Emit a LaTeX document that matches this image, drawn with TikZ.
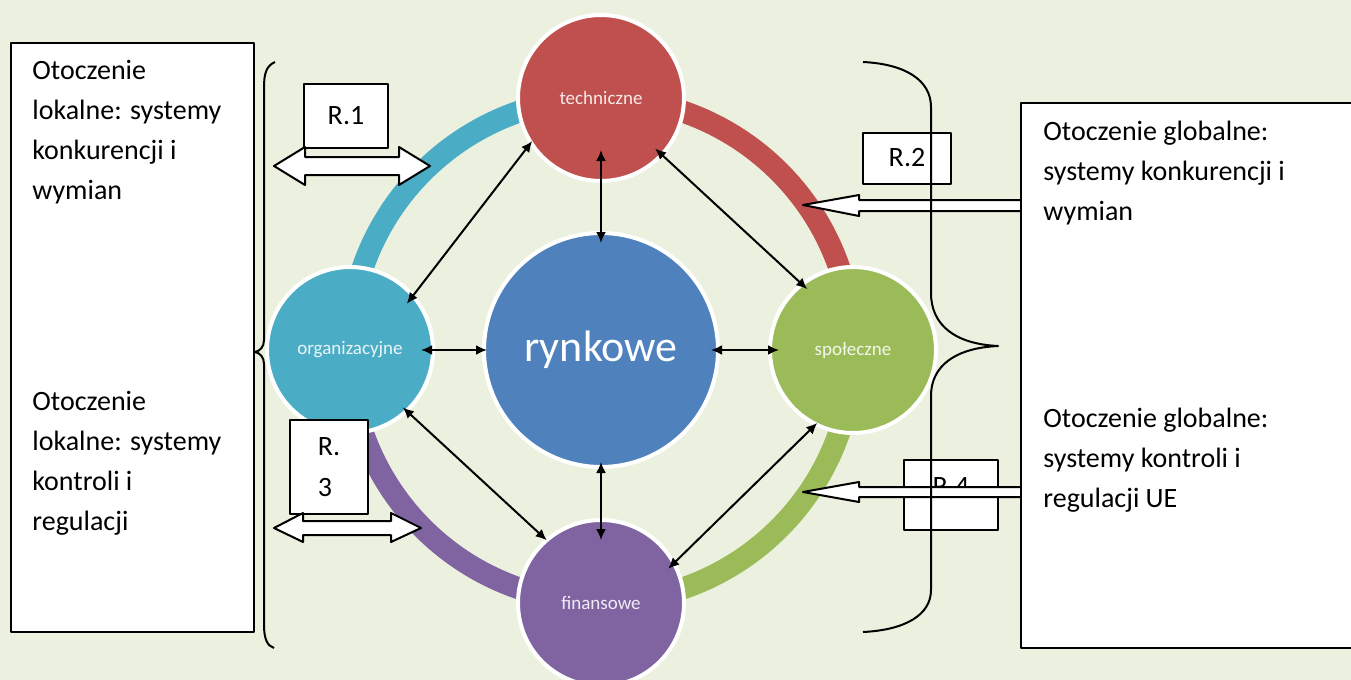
\documentclass[tikz,border=0pt]{standalone}
\usepackage{fontspec}
\setmainfont{Carlito}
\usetikzlibrary{arrows.meta}
\definecolor{tlo}{RGB}{235,241,222}
\definecolor{kolTech}{RGB}{192,80,77}
\definecolor{kolOrg}{RGB}{75,172,198}
\definecolor{kolRyn}{RGB}{79,129,189}
\definecolor{kolSpo}{RGB}{155,187,89}
\definecolor{kolFin}{RGB}{128,100,162}
\begin{document}
\begin{tikzpicture}[x=0.5pt,y=-0.5pt,>={Latex[length=5.5pt,width=5pt]},line join=round,
    kolo/.style={circle,draw=white,line width=2pt,minimum size=83pt,inner sep=0pt,font=\fontsize{9.5}{10}\selectfont},
    pierscien/.style={line width=11pt},
    link/.style={<->,line width=1pt},
    ramka/.style={draw,line width=1.2pt,fill=white},
    rbox/.style={draw,line width=1pt,fill=white,inner sep=0pt,font=\fontsize{14}{20.5}\selectfont},
    opis/.style={anchor=north west,align=left,inner sep=0pt,font=\fontsize{14}{20}\selectfont},
    blok/.style={draw,line width=1pt,fill=white}]
    \useasboundingbox (0,0) rectangle (1351,680);
    \fill[tlo] (0,0) rectangle (1351,680);
    % pierscien
    \coordinate (ctr) at (601,350);
    \draw[pierscien,kolOrg] (ctr) ++(180:126pt) arc[start angle=180,end angle=90,radius=126pt];
    \draw[pierscien,kolTech] (ctr) ++(90:126pt) arc[start angle=90,end angle=0,radius=126pt];
    \draw[pierscien,kolSpo] (ctr) ++(0:126pt) arc[start angle=0,end angle=-90,radius=126pt];
    \draw[pierscien,kolFin] (ctr) ++(-90:126pt) arc[start angle=-90,end angle=-180,radius=126pt];
    % kola
    \node[kolo,fill=kolTech,text=kolTech!12!white] (tech) at (601,98) {techniczne};
    \node[kolo,fill=kolOrg,text=kolOrg!12!white] (org) at (350,350) {organizacyjne};
    \node[kolo,fill=kolSpo,text=kolSpo!12!white] (spo) at (853,350) {społeczne};
    \node[kolo,fill=kolFin,text=kolFin!12!white] (fin) at (601,603) {finansowe};
    \node[kolo,fill=kolRyn,text=white,minimum size=117pt,font=\fontsize{22}{24}\selectfont] (ryn) at (601,350) {rynkowe};
    % strzalki
    \draw[link,shorten <=-6pt,shorten >=-2pt] (org.41) -- (tech.213);
    \draw[link,shorten <=-5.5pt,shorten >=-4.5pt] (tech.317) -- (spo.128);
    \draw[link,shorten <=-3.5pt,shorten >=-1pt] (org.313) -- (fin.131);
    \draw[link,shorten <=-2pt,shorten >=-5pt] (spo.243) -- (fin.29);
    \draw[link,shorten <=-16.5pt,shorten >=-6pt] (tech) -- (ryn);
    \draw[link,shorten <=-7pt,shorten >=-2.5pt] (org) -- (ryn);
    \draw[link,shorten <=-4.5pt,shorten >=-5.5pt] (ryn) -- (spo);
    \draw[link,shorten <=-3.5pt,shorten >=-11pt] (ryn) -- (fin);
    % ramki R
    \node[rbox,minimum width=42pt,minimum height=32pt] (r1) at (346,116) {R.1};
    \node[rbox,minimum width=44pt,minimum height=25.5pt] (r2) at (907,158) {R.2};
    \node[rbox,minimum width=39pt,minimum height=47pt,align=left] (r3) at (329,467) {R.\\3};
    \node[rbox,minimum width=47pt,minimum height=35pt,text height=9pt,text depth=9pt] (r4) at (951,495) {R.4};
    % strzalki blokowe
    \draw[blok] (274,166) -- (305,147) -- (305,157) -- (399,157) -- (399,147) -- (430,166)
        -- (399,185) -- (399,175) -- (305,175) -- (305,185) -- cycle;
    \draw[blok] (274,528) -- (303,513) -- (303,521) -- (391,521) -- (391,513) -- (421,528)
        -- (391,542) -- (391,535) -- (303,535) -- (303,542) -- cycle;
    \draw[blok] (803,205) -- (859,195) -- (859,200) -- (1021,200) -- (1021,211) -- (859,211) -- (859,216) -- cycle;
    \draw[blok] (803,492) -- (859,482) -- (859,487) -- (1021,487) -- (1021,497) -- (859,497) -- (859,502) -- cycle;
    % klamry
    \draw[line width=1pt] (275,62) .. controls (266,66) and (264,74) .. (264,88) -- (264,340)
        .. controls (264,347) and (260,351) .. (255,352) .. controls (260,353) and (264,357) .. (264,364)
        -- (264,625) .. controls (264,638) and (267,646) .. (274,648);
    \draw[line width=1pt] (863,62) .. controls (905,64) and (931,80) .. (931,107) -- (931,293)
        .. controls (931,325) and (955,344) .. (998,346) .. controls (955,348) and (931,366) .. (931,396)
        -- (931,590) .. controls (931,615) and (905,630) .. (863,632);
    % otoczenie
    \draw[ramka] (11,43) rectangle (254,632);
    \draw[ramka] (1021,103) rectangle (1362,648);
    \node[opis] (lokA) at (32,60) {Otoczenie\\lokalne: systemy\\konkurencji i\\wymian};
    \node[opis] (lokB) at (32,391) {Otoczenie\\lokalne: systemy\\kontroli i\\regulacji};
    \node[opis] (globA) at (1043,121) {Otoczenie globalne:\\systemy konkurencji i\\wymian};
    \node[opis] (globB) at (1043,408) {Otoczenie globalne:\\systemy kontroli i\\regulacji UE};
\end{tikzpicture}
\end{document}
